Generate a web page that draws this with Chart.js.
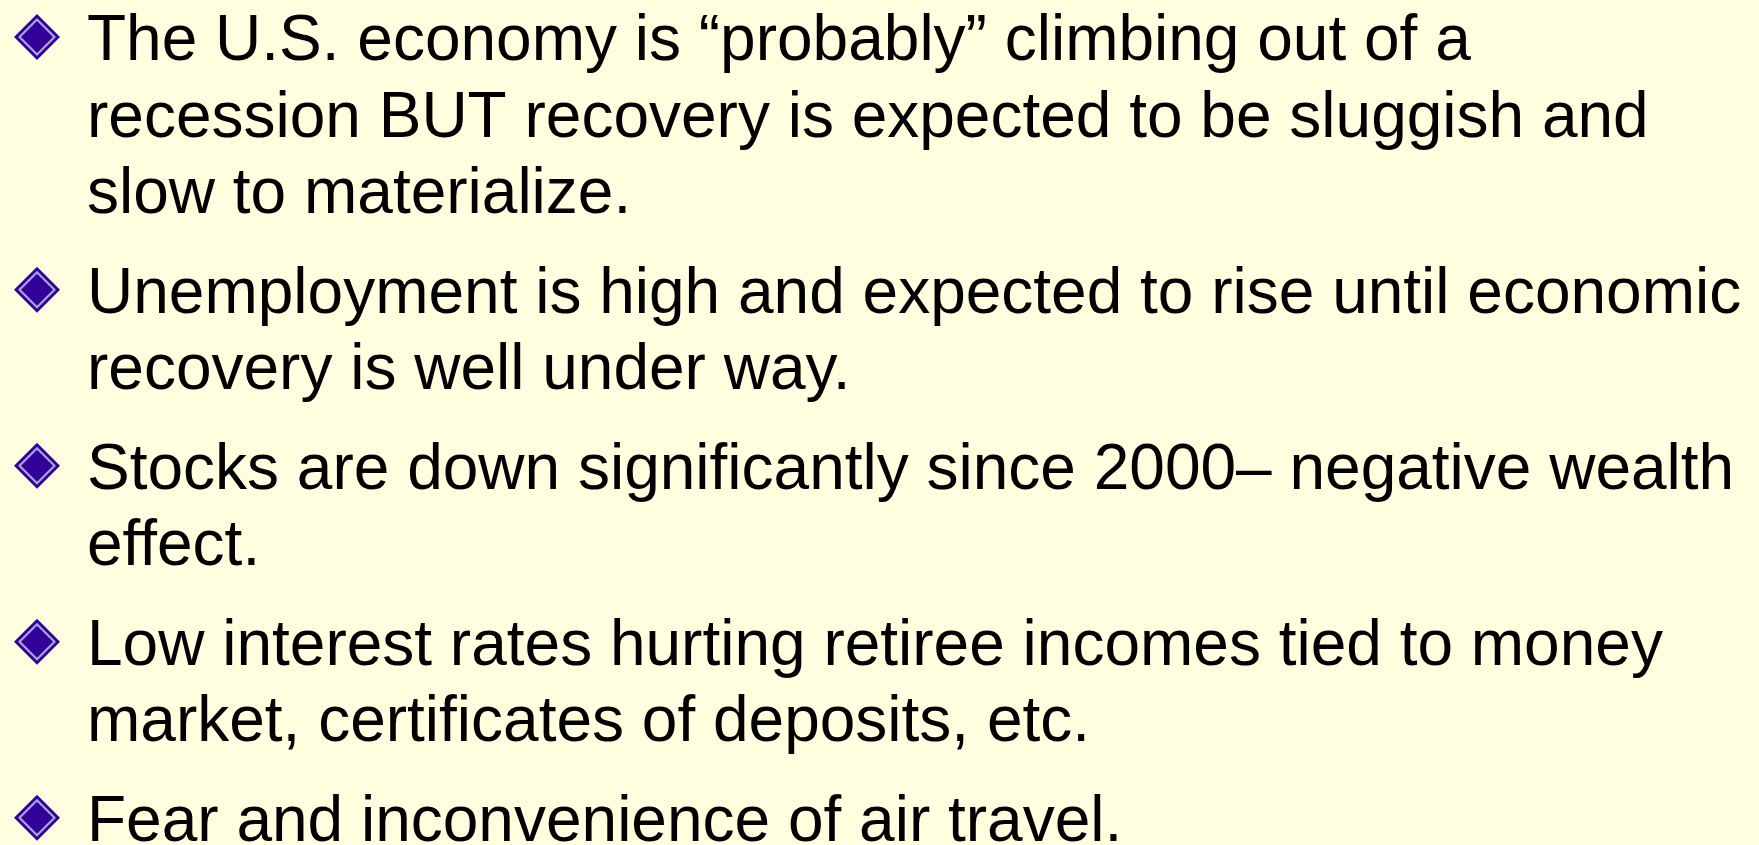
<!DOCTYPE html>
<html>
<head>
<meta charset="utf-8">
<script src="https://cdn.jsdelivr.net/npm/chart.js@4/dist/chart.umd.min.js"></script>
<style>
  html, body { margin: 0; padding: 0; background: #FFFFE0; overflow: hidden; }
  #wrap { position: absolute; left: 0; top: 0; width: 1759px; height: 845px; }
</style>
</head>
<body>
<div id="wrap"><canvas id="c" width="1759" height="845"></canvas></div>
<script>
// Slide content: one array of lines per bullet
const bullet1 = ["The U.S. economy is \u201cprobably\u201d climbing out of a",
                 "recession BUT recovery is expected to be sluggish and",
                 "slow to materialize."];
const bullet2 = ["Unemployment is high and expected to rise until economic",
                 "recovery is well under way."];
const bullet3 = ["Stocks are down significantly since 2000\u2013 negative wealth",
                 "effect."];
const bullet4 = ["Low interest rates hurting retiree incomes tied to money",
                 "market, certificates of deposits, etc."];
const bullet5 = ["Fear and inconvenience of air travel."];
const bullets = [bullet1, bullet2, bullet3, bullet4, bullet5];

// layout (pixel units of the slide)
const W = 1759, H = 845;
const TEXT_X = 87, FIRST_BASE = 60, LINE_STEP = 76.7, PARA_STEP = 99.3;
const FONT = '64px "Liberation Sans", Arial, sans-serif';
const DIAMOND_X = 37, DIAMOND_DY = 23, DIAMOND_R = 23;

function layout() {
  const out = [];
  let base = FIRST_BASE;
  bullets.forEach((lines, bi) => {
    if (bi > 0) base += PARA_STEP;
    lines.forEach((t, li) => {
      if (li > 0) base += LINE_STEP;
      out.push({ text: t, base: base, first: li === 0 });
    });
  });
  return out;
}

function diamond(ctx, cx, cy, r, color) {
  ctx.beginPath();
  ctx.moveTo(cx, cy - r);
  ctx.lineTo(cx + r, cy);
  ctx.lineTo(cx, cy + r);
  ctx.lineTo(cx - r, cy);
  ctx.closePath();
  ctx.fillStyle = color;
  ctx.fill();
}

const slidePlugin = {
  id: 'slide',
  beforeDraw(chart) {
    const ctx = chart.ctx;
    ctx.save();
    ctx.fillStyle = '#FFFFE0';
    ctx.fillRect(0, 0, chart.width, chart.height);
    ctx.restore();
  },
  afterDraw(chart) {
    const ctx = chart.ctx;
    const xs = chart.scales.x, ys = chart.scales.y;
    ctx.save();
    ctx.font = FONT;
    ctx.fillStyle = '#000000';
    ctx.textBaseline = 'alphabetic';
    ctx.textAlign = 'left';
    layout().forEach(l => {
      const px = xs.getPixelForValue(TEXT_X);
      const py = ys.getPixelForValue(l.base);
      ctx.fillStyle = '#000000';
      ctx.fillText(l.text, px, py);
      if (l.first) {
        const cx = xs.getPixelForValue(DIAMOND_X);
        const cy = ys.getPixelForValue(l.base - DIAMOND_DY);
        diamond(ctx, cx, cy, DIAMOND_R, '#330099');
        diamond(ctx, cx, cy, DIAMOND_R - 4, '#A8A8E0');
        diamond(ctx, cx, cy, DIAMOND_R - 7, '#330099');
      }
    });
    ctx.restore();
  }
};

new Chart(document.getElementById('c'), {
  type: 'scatter',
  data: { datasets: [{ data: [], pointRadius: 0 }] },
  options: {
    responsive: false,
    animation: false,
    layout: { padding: 0 },
    plugins: { legend: { display: false }, tooltip: { enabled: false } },
    scales: {
      x: { type: 'linear', min: 0, max: W, display: false },
      y: { type: 'linear', min: 0, max: H, reverse: true, display: false }
    }
  },
  plugins: [slidePlugin]
});
</script>
</body>
</html>
